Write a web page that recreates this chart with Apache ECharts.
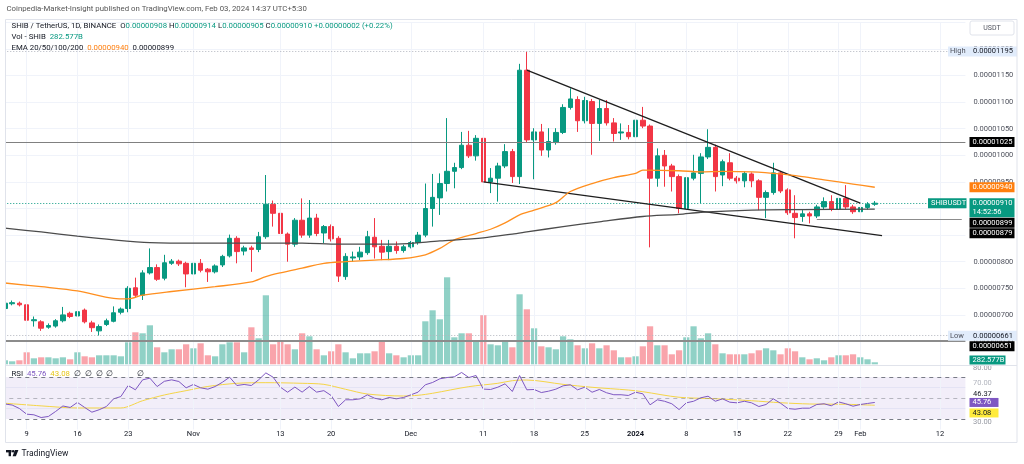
<!DOCTYPE html>
<html>
<head>
<meta charset="utf-8">
<title>SHIB / TetherUS 1D</title>
<script src="https://cdn.jsdelivr.net/npm/echarts@6.0.0/dist/echarts.min.js"></script>
<style>
  html, body { margin: 0; padding: 0; background: #fff; }
  #chart { width: 1024px; height: 464px; }
</style>
</head>
<body>
<div id="chart"></div>
<script>
// SHIB/USDT daily candles, Binance, 06 Oct 2023 - 03 Feb 2024
// prices are in units of 1e-8 USDT (908 = 0.00000908)
const opens = [712,721,722,719,689,687,677,679,689,703, 698,709,685,670,682,688,705,712,751,737,
  779,789,769,797,801,797,777,797,786,781, 794,811,844,820,826,823,847,908,891,852,
  833,878,850,882,854,866,844,772,807,809, 817,846,829,819,829,821,828,836,850,900,
  920,947,970,977,1019,999,1032,950,957,980, 1007,960,1160,1029,1044,1010,1024,1043,1090,1105,
  1065,1101,1060,1088,1061,1042,1043,1035,1066,1055, 957,1000,980,960,900,957,966,997,1015,963,
  986,957,952,965,952,921,930,967,935,891, 885,890,886,903,913,899,919,903,894,902, 908];
const highs = [726,727,725,721,697,690,684,692,715,706, 729,712,689,682,693,716,714,754,770,784,
  825,795,813,805,804,800,801,805,788,795, 813,851,848,830,830,856,963,915,916,855,
  882,919,916,890,869,870,848,816,819,828, 858,882,841,841,838,832,839,856,947,965,
  966,1070,986,1044,1046,1038,1060,976,986,1021, 1012,1172,1195,1051,1059,1051,1051,1096,1126,1111,
  1110,1106,1104,1104,1070,1060,1057,1070,1091,1058, 1013,1010,984,964,962,1001,1004,1049,1020,992,
  1004,961,970,968,955,934,986,970,938,925, 897,894,907,921,925,923,944,907,906,912, 914];
const lows = [708,718,716,672,678,670,674,676,686,694, 694,684,668,661,679,686,701,705,732,728,
  776,764,765,794,792,752,770,780,762,778, 790,808,797,812,781,818,843,866,850,800,
  828,845,845,848,835,838,762,766,800,803, 813,806,803,803,815,817,825,832,846,866,
  888,932,938,974,995,990,910,929,913,976, 948,946,1024,955,999,996,1020,1040,1086,1044,
  1060,1001,1027,1056,1026,1029,1030,1023,1051,827, 941,941,932,891,848,953,910,993,932,942,
  953,947,940,940,897,882,926,929,888,844, 875,872,882,899,895,895,899,890,878,898, 905];
const closes = [722,723,719,690,691,675,680,689,700,697, 706,687,676,678,689,704,711,750,737,779,
  789,767,798,801,796,777,797,784,781,792, 810,844,819,826,823,847,908,891,853,833,
  878,850,882,853,866,843,773,810,809,818, 847,828,818,829,821,828,836,850,900,921,
  947,970,977,1019,999,1032,950,957,980,1007, 960,1160,1029,1044,1010,1026,1043,1090,1106,1065,
  1103,1060,1088,1061,1041,1044,1035,1066,1055,957, 999,980,960,900,958,967,997,1015,960,988,
  957,952,966,952,921,930,967,933,892,883, 890,886,903,913,899,919,903,894,902,908, 910];
// volume in billions of SHIB
const volumes = [560,420,560,1680,840,980,980,840,980,700, 1680,1120,980,1260,1260,1260,1120,3080,4480,4340,
  5460,2380,1680,2100,2100,2800,2240,2940,1260,1120, 2800,3080,3080,1680,5180,3640,9660,2800,3220,2800,
  2100,4340,3920,2100,1260,1820,2800,1680,840,1540, 1540,1820,3360,1540,1260,980,1260,1260,6020,7560,
  6300,12180,3780,4340,4340,3220,6860,2800,2660,3220, 2380,9800,7700,5040,2520,2380,2100,3920,3500,2660,
  2240,2940,2240,2660,1960,980,980,1120,2520,5320, 2660,2660,1400,1960,3780,5320,3640,4340,2800,1540,
  1400,1400,1400,1540,1960,2240,1960,1400,2240,1820, 980,700,840,560,980,1260,1260,1400,980,700, 282.577];
// EMA lines at sample days (day index, price)
const ema50Idx = [0,5,10,15,17,19,23,29,34,36,38,41,44,47,51,55,58,60,62,65,67,69,71,73,76,78,81,84,87,88,93,96,99,103,107,110,113,117,120];
const ema50Val = [760,753,745,731,730,737,744,753,762,772,779,788,797,800,803,806,813,825,841,853,861,873,888,897,911,932,947,958,966,972,971,969,970,969,965,960,954,946,940];
const ema200Idx = [0,5,10,15,20,27,34,41,46,54,60,66,70,72,77,82,88,93,96,103,110,120];
const ema200Val = [863,856,848,841,836,835,835,835,833,833,839,845,852,856,866,875,885,889,893,897,898,899];
// RSI(14) and its moving average
const rsi = [44.3,43.3,40,34.6,34,31.4,32.4,37.2,42.4,41, 45.8,41,36.5,38.8,41.9,49.2,51.4,61.9,57.8,67.3,
  68.9,60.9,65.9,67.3,65.7,59.7,62.9,59.7,58.4,60.9, 65,69.8,61.9,62.9,61.9,67.3,73.9,69.8,60.3,55.5,
  60.4,55.6,60.9,55.6,57,52.4,41.9,48.3,48.3,49.2, 53,49.8,48.3,50.5,49.2,50.5,53,55.6,62.6,64.8,
  68.3,69.5,70.2,74.3,69.5,71.4,58.5,58.1,60.3,63.5, 56.2,71.4,57.8,58.1,55.2,56.5,58.4,61.6,62.6,57.8,
  60.3,55.5,58.1,55,53.1,53.1,52.4,55.5,54,43.5, 48.3,46.9,44.5,39,45.4,46.9,50.2,51.7,46.9,49.2,
  46,45.4,46.9,45.4,41.9,43.8,49.2,45,40,39.3, 40.3,40.3,43.8,44.5,42.6,46.3,44.5,42.2,43.8,44.8, 45.76];
const rsiMaIdx = [0,5,10,16,19,22,25,28,32,36,41,44,47,50,55,57,59,64,68,70,72,77,81,86,88,93,98,103,107,111,116,120];
const rsiMaVal = [45,42.5,40.5,40.5,47.4,52.9,57,61,64,64.6,64,63,58.3,53.8,51.9,52.6,54.5,60.8,64,66.5,67.1,63,60.2,57.6,56,50.7,49.3,47.4,45.5,44.3,44,43.08];
// drawn lines
const upperTrend = [[72, 1160], [118, 910]];
const lowerTrend = [[66, 950], [121, 849]];
const resistLevel = 1025;
const supportLevel = 879;
const supportStart = 112;
const floorLevel = 651;
// time axis labels
const tickDates = ['2023-10-09','2023-10-16','2023-10-23','2023-11-01','2023-11-13','2023-11-20','2023-12-01',
  '2023-12-11','2023-12-18','2023-12-25','2024-01-01','2024-01-08','2024-01-15','2024-01-22','2024-01-29','2024-02-01','2024-02-12'];
const tickTexts = ['9','16','23','Nov','13','20','Dec','11','18','25','2024','8','15','22','29','Feb','12'];

const FONT = 'Roboto, "Noto Sans", sans-serif';
const FS = 7.5;
const LFS = 7.8;
const UP = '#089981', DOWN = '#f23645';
const UP_VOL = 'rgba(8,153,129,0.45)', DOWN_VOL = 'rgba(242,54,69,0.45)';
const GRID = '#f0f3fa';

// one slot per day, with empty days after the last candle
const dates = [];
for (let k = 0; k < 133; k++) {
  dates.push(new Date(Date.UTC(2023, 9, 6 + k)).toISOString().slice(0, 10));
}
const tickText = {};
tickDates.forEach((d, k) => { tickText[d] = tickTexts[k]; });

const fmt = v => (v / 1e8).toFixed(8);
const pts = (idx, val) => idx.map((d, k) => [dates[d], val[k]]);
const last = closes.length - 1;
const hi = Math.max(...highs), lo = Math.min(...lows);

const chart = echarts.init(document.getElementById('chart'));
const side = { left: 1.28, right: 58.6 };

const vLines = tickDates.map(d => ({ xAxis: d }));
const noSym = ['none', 'none'];

const option = {
  animation: false,
  backgroundColor: '#fff',
  textStyle: { fontFamily: FONT },
  grid: [
    { ...side, top: 22.34, bottom: 95.9 },
    { ...side, top: 230, bottom: 99.7 },
    { ...side, top: 366.5, bottom: 34.5 }
  ],
  xAxis: [0, 1, 2].map(g => ({
    type: 'category',
    gridIndex: g,
    data: dates,
    boundaryGap: true,
    axisLine: { show: false },
    axisTick: { show: false },
    splitLine: { show: false },
    axisLabel: g === 2 ? {
      interval: (i, v) => v in tickText,
      formatter: v => v === '2024-01-01' ? '{b|2024}' : tickText[v],
      color: '#131722',
      fontSize: FS,
      margin: 1,
      rich: { b: { fontWeight: 'bold', fontSize: FS, color: '#131722' } }
    } : { show: false }
  })),
  yAxis: [
    {
      type: 'value', gridIndex: 0, position: 'right',
      min: 600, max: 1250, interval: 50,
      axisLine: { show: false }, axisTick: { show: false },
      axisLabel: { formatter: fmt, color: '#50535e', fontSize: FS, margin: 8, showMinLabel: false, showMaxLabel: false },
      splitLine: { lineStyle: { color: GRID }, showMinLine: false }
    },
    { type: 'value', gridIndex: 1, min: 0, max: 18800, show: false },
    {
      type: 'value', gridIndex: 2, position: 'right',
      min: 20, max: 80, interval: 20,
      axisLine: { show: false }, axisTick: { show: false }, axisLabel: { show: false },
      splitLine: { lineStyle: { color: GRID }, showMinLine: false, showMaxLine: false }
    }
  ],
  series: [
    { // vertical grid lines, price pane
      type: 'line', xAxisIndex: 0, yAxisIndex: 0, data: [], z: 0, silent: true,
      markLine: { symbol: noSym, silent: true, label: { show: false }, lineStyle: { color: GRID, width: 1, type: 'solid' }, data: vLines }
    },
    { // vertical grid lines, RSI pane
      type: 'line', xAxisIndex: 2, yAxisIndex: 2, data: [], z: 0, silent: true,
      markLine: { symbol: noSym, silent: true, label: { show: false }, lineStyle: { color: GRID, width: 1, type: 'solid' }, data: vLines }
    },
    {
      name: 'Vol', type: 'bar', xAxisIndex: 1, yAxisIndex: 1, z: 1,
      barCategoryGap: '14%',
      data: volumes.map((v, i) => ({ value: v, itemStyle: { color: closes[i] >= opens[i] ? UP_VOL : DOWN_VOL } }))
    },
    {
      name: 'SHIBUSDT', type: 'candlestick', xAxisIndex: 0, yAxisIndex: 0, z: 3,
      barWidth: '70%',
      data: opens.map((o, i) => [o, closes[i], lows[i], highs[i]]),
      itemStyle: { color: UP, color0: DOWN, borderColor: UP, borderColor0: DOWN, borderWidth: 1 },
      markLine: {
        symbol: noSym, silent: true, label: { show: false },
        lineStyle: { color: '#787b86', width: 1, type: 'solid' },
        data: [
          { yAxis: hi, lineStyle: { color: '#b2b5be', type: [1, 2] } },
          { yAxis: lo, lineStyle: { color: '#b2b5be', type: [1, 2] } },
          { yAxis: closes[last], lineStyle: { color: UP, type: [1, 2] } },
          { yAxis: resistLevel, lineStyle: { color: '#808080', width: 1, type: 'solid' } },
          { yAxis: floorLevel, lineStyle: { color: '#8c8c8c', width: 2, type: 'solid' } },
          [{ coord: [dates[supportStart], supportLevel], lineStyle: { color: '#8c8c8c', width: 1, type: 'solid' } },
           { coord: [dates[dates.length - 1], supportLevel] }],
          [{ coord: [dates[upperTrend[0][0]], upperTrend[0][1]], lineStyle: { color: '#1e1e1e', width: 1.3, type: 'solid' } },
           { coord: [dates[upperTrend[1][0]], upperTrend[1][1]] }],
          [{ coord: [dates[lowerTrend[0][0]], lowerTrend[0][1]], lineStyle: { color: '#1e1e1e', width: 1.3, type: 'solid' } },
           { coord: [dates[lowerTrend[1][0]], lowerTrend[1][1]] }]
        ]
      }
    },
    {
      name: 'EMA 50', type: 'line', xAxisIndex: 0, yAxisIndex: 0, z: 5,
      data: pts(ema50Idx, ema50Val), smooth: 0.3, showSymbol: false, connectNulls: true,
      lineStyle: { color: '#ff8f1f', width: 1.3 }
    },
    {
      name: 'EMA 200', type: 'line', xAxisIndex: 0, yAxisIndex: 0, z: 5,
      data: pts(ema200Idx, ema200Val), smooth: 0.3, showSymbol: false, connectNulls: true,
      lineStyle: { color: '#4c4c4c', width: 1.3 }
    },
    {
      name: 'RSI', type: 'line', xAxisIndex: 2, yAxisIndex: 2, z: 4,
      data: rsi, showSymbol: false,
      lineStyle: { color: '#7e57c2', width: 1 },
      markArea: { silent: true, itemStyle: { color: 'rgba(126,87,194,0.1)' }, data: [[{ yAxis: 30 }, { yAxis: 70 }]] },
      markLine: {
        symbol: noSym, silent: true, label: { show: false },
        lineStyle: { color: '#787b86', width: 1, type: [4, 4] },
        data: [{ yAxis: 70 }, { yAxis: 50, lineStyle: { color: 'rgba(120,123,134,0.5)' } }, { yAxis: 30 }]
      }
    },
    {
      name: 'RSI MA', type: 'line', xAxisIndex: 2, yAxisIndex: 2, z: 3,
      data: pts(rsiMaIdx, rsiMaVal), smooth: 0.3, showSymbol: false,
      lineStyle: { color: '#f5d547', width: 1 }
    }
  ]
};
chart.setOption(option);

// ---- overlay: legends, axis tags, frame ----
const py = v => chart.convertToPixel({ yAxisIndex: 0 }, v);
const vy = v => chart.convertToPixel({ yAxisIndex: 1 }, v);
const ry = v => chart.convertToPixel({ yAxisIndex: 2 }, v);
const font = (s, w) => `${w || ''} ${s || FS}px ${FONT}`.trim();
const els = [];

function text(x, y, t, fill, opts) {
  els.push(Object.assign({ type: 'text', x: x, y: y, z: 101,
    style: { text: t, fill: fill, font: font(), verticalAlign: 'middle', align: 'left' } }, opts || {}));
}
function box(x, top, w, h, fill, stroke) {
  els.push({ type: 'rect', z: 100, shape: { x: x, y: top, width: w, height: h, r: stroke ? 2 : 0 },
    style: { fill: fill, stroke: stroke || null, lineWidth: 1 } });
}
function tag(x, top, w, lines, bg, fg) {
  const h = 10 + (lines.length - 1) * 9;
  box(x, top, w, h, bg);
  lines.forEach((t, k) => text(x + 3, top + 5 + k * 9, t, fg));
  return top + h;
}
function legend(x, y, str, rich) {
  const r = {};
  Object.keys(rich).forEach(k => { r[k] = { fill: rich[k], font: font(LFS) }; });
  els.push({ type: 'text', x: x, y: y, z: 101, style: { text: str, verticalAlign: 'middle', font: font(LFS), rich: r } });
}

// left clip + frame
els.push({ type: 'rect', z: 99, shape: { x: 0, y: 0, width: 5.5, height: 464 }, style: { fill: '#fff' } });
els.push({ type: 'rect', z: 110, shape: { x: 5.5, y: 19.5, width: 1011.5, height: 423 }, style: { fill: null, stroke: '#e0e3eb', lineWidth: 1 } });
els.push({ type: 'line', z: 110, shape: { x1: 5.5, y1: 365.5, x2: 1017, y2: 365.5 }, style: { stroke: '#e0e3eb', lineWidth: 1 } });

// header
legend(6.5, 9.5, '{t|Coinpedia-Market-Insight published on TradingView.com, Feb 03, 2024 14:37 UTC+5:30}', { t: '#555' });
legend(11.5, 26, '{d|SHIB / TetherUS, 1D, BINANCE}  {d|O}{g|' + fmt(opens[last]) + '} {d|H}{g|' + fmt(highs[last]) +
  '} {d|L}{g|' + fmt(lows[last]) + '} {d|C}{g|' + fmt(closes[last]) + '} {g|+0.00000002 (+0.22%)}', { d: '#131722', g: UP });
legend(11.5, 37, '{d|Vol - SHIB}  {g|' + volumes[last].toFixed(3) + 'B}', { d: '#131722', g: UP });
legend(11.5, 48, '{d|EMA 20/50/100/200}  {o|' + fmt(ema50Val[ema50Val.length - 1]) + '}  {d|' +
  fmt(ema200Val[ema200Val.length - 1]) + '}', { d: '#131722', o: '#ff7f0e' });
legend(11.5, 374.5, '{d|RSI}  {p|' + rsi[last].toFixed(2) + '}  {y|' + rsiMaVal[rsiMaVal.length - 1].toFixed(2) +
  '}  {n|\u2205  \u2205  \u2205  \u2205}            {n|\u2205}', { d: '#131722', p: '#7e57c2', y: '#e6c619', n: '#131722' });

// currency button
box(970, 21, 44, 14, '#fff', '#e0e3eb');
text(992, 28, 'USDT', '#50535e', { style: { text: 'USDT', fill: '#50535e', font: font(7), verticalAlign: 'middle', align: 'center' } });

// high / low tags
const hiY = py(hi), loY = py(lo);
box(948, hiY - 5, 69, 10, '#e1ecfb');
text(950, hiY, 'High', '#50535e');
text(973, hiY, fmt(hi), '#131722');
box(948, loY - 5, 69, 10, '#e1ecfb');
text(950, loY, 'Low', '#50535e');
text(973, loY, fmt(lo), '#131722');

// price tags, pushed down so they do not overlap
let bottom = 0;
const stack = [
  { v: resistLevel, bg: '#000', lines: [fmt(resistLevel)] },
  { v: ema50Val[ema50Val.length - 1], bg: '#ff7f0e', lines: [fmt(ema50Val[ema50Val.length - 1])] },
  { v: closes[last], bg: UP, lines: [fmt(closes[last]), '14:52:56'], name: 'SHIBUSDT' },
  { v: ema200Val[ema200Val.length - 1], bg: '#000', lines: [fmt(ema200Val[ema200Val.length - 1])] },
  { v: supportLevel, bg: '#000', lines: [fmt(supportLevel)] }
];
stack.forEach(s => {
  const top = Math.max(py(s.v) - 5, bottom + 0.5);
  if (s.name) {
    box(928, top, 38.5, 10, s.bg);
    text(931, top + 5, s.name, '#fff');
  }
  bottom = tag(969.5, top, 45, s.lines, s.bg, '#fff');
});
const floorTop = Math.max(py(floorLevel) - 5, loY + 5.5);
const floorBottom = tag(969.5, floorTop, 45, [fmt(floorLevel)], '#000', '#fff');
const volTop = Math.min(Math.max(vy(volumes[last]) - 4.5, floorBottom + 0.5), 364.5 - 9);
box(969.5, volTop, 36, 9, UP);
text(972.5, volTop + 4.5, volumes[last].toFixed(3) + 'B', '#fff');

// RSI scale tags
text(973, ry(80) + 1.5, '80.00', '#9598a1');
text(973, ry(70) + 6, '70.00', '#b2b5be');
const rsiTop = ry(rsi[last]) - 4.5;
text(973, rsiTop - 3.5, '46.37', '#131722');
box(969.5, rsiTop, 29, 9, '#7e57c2');
text(972.5, rsiTop + 4.5, rsi[last].toFixed(2), '#fff');
const maTop = Math.max(ry(rsiMaVal[rsiMaVal.length - 1]) - 4.5, rsiTop + 10.5);
box(969.5, maTop, 29, 9, '#ffeb3b');
text(972.5, maTop + 4.5, rsiMaVal[rsiMaVal.length - 1].toFixed(2), '#131722');
text(973, maTop + 14, '30.00', '#9598a1');

// TradingView mark
els.push({ type: 'rect', z: 101, shape: { x: 6, y: 450, width: 5.5, height: 2.4 }, style: { fill: '#131722' } });
els.push({ type: 'rect', z: 101, shape: { x: 8.6, y: 450, width: 2.4, height: 6.2 }, style: { fill: '#131722' } });
els.push({ type: 'circle', z: 101, shape: { cx: 13.2, cy: 451.3, r: 1.3 }, style: { fill: '#131722' } });
els.push({ type: 'polygon', z: 101, shape: { points: [[15, 450], [18.4, 450], [15.9, 456.2], [12.6, 456.2]] }, style: { fill: '#131722' } });
text(21.5, 453.5, 'TradingView', '#131722', { style: { text: 'TradingView', fill: '#131722', font: font(8.5), verticalAlign: 'middle' } });

chart.setOption({ graphic: { elements: els } });
</script>
</body>
</html>
